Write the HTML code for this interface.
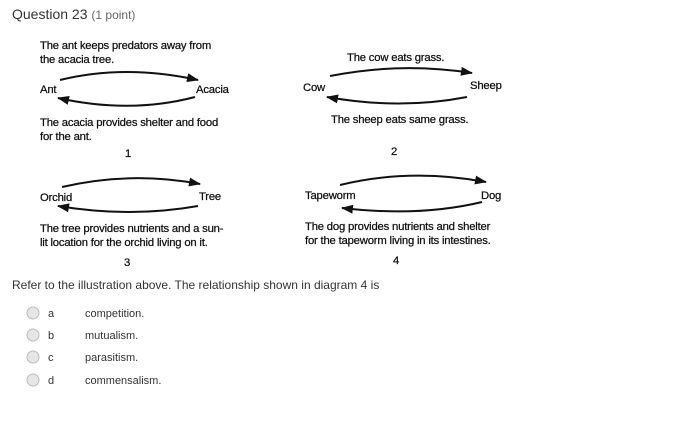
<!DOCTYPE html>
<html><head><meta charset="utf-8"><style>
html,body{margin:0;padding:0;background:#fff;width:699px;height:430px;overflow:hidden}
svg{display:block}
.d{font-family:"Liberation Sans",sans-serif;font-size:11.3px;fill:#111;stroke:#111;stroke-width:0.25px;letter-spacing:-0.2px}
.q{font-family:"Liberation Sans",sans-serif;fill:#333}
</style></head><body>
<svg width="699" height="430" viewBox="0 0 699 430" xmlns="http://www.w3.org/2000/svg">
<defs><marker id="a" markerWidth="12" markerHeight="9" refX="11" refY="4.5" orient="auto" markerUnits="userSpaceOnUse"><path d="M0,0 L12,4.5 L0,9 Z" fill="#111"/></marker></defs>
<text class="q" x="12" y="19" font-size="14" fill="#333">Question 23 <tspan font-size="12" fill="#666">(1 point)</tspan></text>

<g class="d">
<text x="40" y="49">The ant keeps predators away from</text>
<text x="40" y="63">the acacia tree.</text>
<text x="40" y="93">Ant</text>
<text x="196" y="93">Acacia</text>
<text x="40" y="126">The acacia provides shelter and food</text>
<text x="40" y="140">for the ant.</text>
<text x="125" y="157">1</text>

<text x="347" y="61">The cow eats grass.</text>
<text x="303" y="91">Cow</text>
<text x="470" y="89">Sheep</text>
<text x="331" y="123">The sheep eats same grass.</text>
<text x="391" y="155">2</text>

<text x="40" y="201">Orchid</text>
<text x="199" y="200">Tree</text>
<text x="40" y="232">The tree provides nutrients and a sun-</text>
<text x="40" y="246">lit location for the orchid living on it.</text>
<text x="124" y="266">3</text>

<text x="305" y="199">Tapeworm</text>
<text x="481" y="199">Dog</text>
<text x="305" y="230">The dog provides nutrients and shelter</text>
<text x="305" y="244">for the tapeworm living in its intestines.</text>
<text x="393" y="264">4</text>
</g>

<g fill="none" stroke="#111" stroke-width="2">
<path d="M60,80 Q125,64 198,80" marker-end="url(#a)"/>
<path d="M195,97 Q130,114 58,98" marker-end="url(#a)"/>
<path d="M330,76 Q400,62 472,73" marker-end="url(#a)"/>
<path d="M467,97 Q400,110 327,97" marker-end="url(#a)"/>
<path d="M62,187 Q130,171 200,184" marker-end="url(#a)"/>
<path d="M198,206 Q130,218 58,206" marker-end="url(#a)"/>
<path d="M340,185 Q410,168 486,182" marker-end="url(#a)"/>
<path d="M482,202 Q420,217 342,208" marker-end="url(#a)"/>
</g>

<text class="q" x="12" y="289" font-size="12">Refer to the illustration above. The relationship shown in diagram 4 is</text>
<g class="q" font-size="11">
<circle cx="33" cy="313" r="6" fill="#e6e6e6" stroke="#bbb"/><text x="48" y="317">a</text><text x="85" y="317">competition.</text>
<circle cx="33" cy="335" r="6" fill="#e6e6e6" stroke="#bbb"/><text x="48" y="339">b</text><text x="85" y="339">mutualism.</text>
<circle cx="33" cy="357" r="6" fill="#e6e6e6" stroke="#bbb"/><text x="48" y="361">c</text><text x="85" y="361">parasitism.</text>
<circle cx="33" cy="380" r="6" fill="#e6e6e6" stroke="#bbb"/><text x="48" y="384">d</text><text x="85" y="384">commensalism.</text>
</g>
</svg>
</body></html>
